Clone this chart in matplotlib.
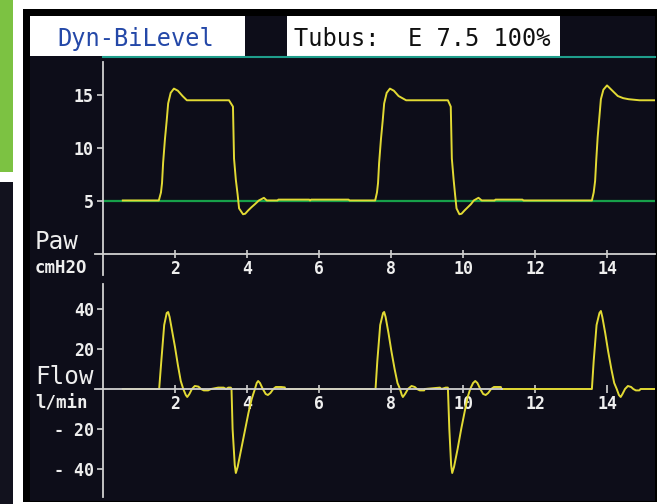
import matplotlib.pyplot as plt
from matplotlib.patches import Rectangle
from matplotlib.lines import Line2D

W, H = 672, 504

# airway pressure trace (s, cmH2O)
paw_t = [0.55, 1.55, 1.61, 1.64, 1.67, 1.72, 1.77, 1.81, 1.88, 1.97, 2.08, 2.21, 2.33,
         3.50, 3.61, 3.64, 3.69, 3.74, 3.78, 3.89, 3.95, 4.03, 4.12, 4.22, 4.33, 4.47,
         4.55, 4.85, 4.87, 5.73, 5.75, 5.78, 6.82, 6.85, 7.56,
         7.61, 7.64, 7.67, 7.72, 7.77, 7.81, 7.88, 7.97, 8.08, 8.21, 8.42,
         9.58, 9.66, 9.69, 9.74, 9.78, 9.82, 9.90, 9.96, 10.04, 10.13, 10.22, 10.30, 10.43,
         10.52, 10.88, 10.90, 11.65, 11.68, 13.58,
         13.63, 13.67, 13.70, 13.74, 13.79, 13.83, 13.90, 14.00, 14.15, 14.30, 14.45,
         14.60, 14.90, 15.40]
paw_v = [5.05, 5.05, 5.8, 6.7, 8.6, 10.8, 12.6, 14.2, 15.2, 15.6, 15.4, 14.9, 14.5,
         14.5, 13.9, 9.0, 7.0, 5.6, 4.3, 3.75, 3.8, 4.1, 4.4, 4.7, 5.05, 5.3,
         5.05, 5.05, 5.13, 5.13, 5.05, 5.13, 5.13, 5.05, 5.05,
         5.8, 6.7, 8.6, 10.8, 12.6, 14.2, 15.2, 15.6, 15.4, 14.9, 14.5,
         14.5, 13.9, 9.0, 7.0, 5.6, 4.3, 3.75, 3.8, 4.1, 4.4, 4.7, 5.05, 5.3,
         5.05, 5.05, 5.13, 5.13, 5.05, 5.05,
         5.8, 6.9, 8.8, 11.0, 13.0, 14.6, 15.5, 15.9, 15.4, 14.9, 14.7,
         14.6, 14.5, 14.5]

# flow trace (s, l/min)
flow_t = [0.55, 1.56, 1.62, 1.70, 1.77, 1.81, 1.85, 1.92, 2.00, 2.08, 2.16, 2.23, 2.30, 2.34,
          2.40, 2.47, 2.55, 2.65, 2.72, 2.80, 2.92, 3.00, 3.20, 3.35, 3.42, 3.48, 3.55,
          3.57, 3.60, 3.66, 3.69, 3.74, 3.84, 3.94, 4.04, 4.13, 4.22, 4.27, 4.31,
          4.36, 4.44, 4.52, 4.58, 4.65, 4.73, 4.80, 4.95, 5.05, 5.06, 7.57,
          7.62, 7.70, 7.78, 7.81, 7.85, 7.93, 8.01, 8.10, 8.18, 8.25, 8.30, 8.33, 8.39,
          8.47, 8.57, 8.66, 8.72, 8.80, 8.92, 8.94, 9.36, 9.40, 9.52, 9.58,
          9.62, 9.67, 9.70, 9.75, 9.85, 9.95, 10.05, 10.13, 10.20, 10.28, 10.34, 10.40,
          10.48, 10.56, 10.63, 10.70, 10.78, 10.86, 11.05, 11.07, 13.58,
          13.63, 13.71, 13.79, 13.83, 13.87, 13.95, 14.03, 14.12, 14.20, 14.27, 14.33,
          14.38, 14.43, 14.50, 14.58, 14.67, 14.73, 14.80, 14.90, 14.93, 15.40]
flow_v = [0, 0, 14, 32, 38, 38.5, 36, 29, 21, 12, 4, 0, -3, -4,
          -2.5, 0, 1.5, 1.2, 0, -0.7, -0.7, 0, 0.7, 0.7, 0, 0.7, 0.7,
          0, -20, -38, -42, -39, -30, -21, -12, -5, 0, 3, 4,
          3, 0, -2.5, -3, -2, 0, 1, 1, 0.8, 0, 0,
          14, 32, 38, 38.5, 36, 28, 19, 10, 3, 0, -3, -4, -2.5,
          0, 1.5, 1, 0, -0.7, -0.7, 0, 0.7, 0, 0.7, 0.7,
          -20, -38, -42, -39, -30, -20, -11, -4, 0, 3, 4, 3,
          0, -2.5, -3, -2, 0, 1, 1, 0, 0,
          14, 32, 38, 39, 36, 28, 19, 10, 3, 0, -3,
          -4, -2.5, 0, 1.5, 1, 0, -0.7, -0.7, 0, 0]

x_ticks = [2, 4, 6, 8, 10, 12, 14]
paw_ticks = [5, 10, 15]
flow_ticks = [40, 20, -20, -40]
flow_tick_labels = ['40', '20', '- 20', '- 40']
peep = 5

SCREEN = '#0d0d19'
TRACE = '#e2da34'
AXIS = '#d0d0d0'
TEXT = '#eeeeee'
MONO = 'DejaVu Sans Mono'
TICK_SIZE = 12


def frac_rect(x0, y0, x1, y1):
    return [x0 / W, 1 - y1 / H, (x1 - x0) / W, (y1 - y0) / H]


def box(fig, x0, y0, x1, y1, color):
    r = frac_rect(x0, y0, x1, y1)
    fig.add_artist(Rectangle((r[0], r[1]), r[2], r[3], transform=fig.transFigure,
                             facecolor=color, edgecolor='none', zorder=0))


def label(fig, x, y, s, **kw):
    fig.text(x / W, 1 - y / H, s, family=MONO, va='baseline', **kw)


fig = plt.figure(figsize=(W / 100, H / 100), dpi=100, facecolor='white')

# frame of the ventilator screen
box(fig, 0, 0, 13, 172, '#7cc242')
box(fig, 0, 182, 13, 504, '#12121e')
box(fig, 23, 9, 657, 502, '#000000')
box(fig, 30, 16, 655, 501, SCREEN)
box(fig, 30, 16, 245, 56, 'white')
box(fig, 287, 16, 560, 56, 'white')
fig.add_artist(Line2D([103 / W, 655 / W], [1 - 57 / H] * 2, color='#1f9e8c', lw=1.5,
                      transform=fig.transFigure))

label(fig, 57, 46, 'Dyn-BiLevel', size=17, color='#2448a8')
label(fig, 294, 46, 'Tubus:  E 7.5 100%', size=17, color='#111111')

ax_paw = fig.add_axes(frac_rect(95, 62, 655, 275))
ax_flow = fig.add_axes(frac_rect(95, 284, 655, 497))
ax_paw.set_ylim(-1.98, 18.11)
ax_flow.set_ylim(-54, 52.5)

for ax in (ax_paw, ax_flow):
    ax.set_facecolor('none')
    ax.set_xlim(-0.222, 15.333)
    for side in ('top', 'right'):
        ax.spines[side].set_visible(False)
    for side in ('left', 'bottom'):
        ax.spines[side].set_position(('data', 0))
        ax.spines[side].set_color(AXIS)
        ax.spines[side].set_linewidth(1.3)
    ax.set_xticks(x_ticks, labels=[str(v) for v in x_ticks], family=MONO,
                  fontweight='bold', fontsize=TICK_SIZE)
    ax.tick_params(axis='x', direction='inout', length=6, width=1.2, color=AXIS,
                   labelcolor=TEXT, pad=1)
    ax.tick_params(axis='y', direction='out', length=4.5, width=1.2, color=AXIS,
                   labelcolor=TEXT, pad=2)

ax_paw.set_yticks(paw_ticks, labels=[str(v) for v in paw_ticks], family=MONO,
                  fontweight='bold', fontsize=TICK_SIZE)
ax_flow.set_yticks(flow_ticks, labels=flow_tick_labels, family=MONO,
                   fontweight='bold', fontsize=TICK_SIZE)
ax_flow.spines['bottom'].set_bounds(-0.222, 11.07)

ax_paw.hlines(peep, 0, 15.333, color='#17a04a', lw=1.6, zorder=1.5)
ax_paw.plot(paw_t, paw_v, color=TRACE, lw=1.4, zorder=2)
ax_flow.plot(flow_t, flow_v, color=TRACE, lw=1.4, zorder=2)

label(fig, 35, 249, 'Paw', size=17.5, color=TEXT)
label(fig, 35, 273, 'cmH2O', size=12.5, color=TEXT, fontweight='bold')
label(fig, 35, 384, 'Flow', size=17.5, color=TEXT)
label(fig, 35, 408, 'l/min', size=12.5, color=TEXT, fontweight='bold')

fig.savefig('out.png', dpi=100, facecolor='white')
